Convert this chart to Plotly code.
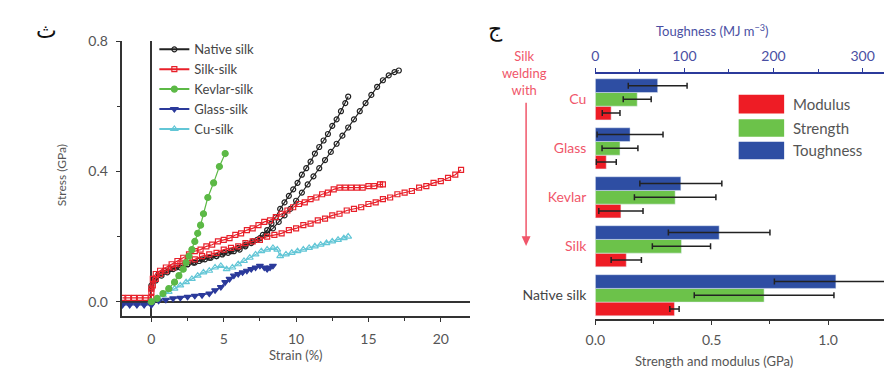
import plotly.graph_objects as go

# ---------------- Left panel: stress-strain curves ----------------
native_a_strain = [0, 0.2, 0.5, 0.9, 1.3, 1.7, 2.1, 2.5, 2.9, 3.3, 3.7, 4.1, 4.5, 4.9, 5.3, 5.7, 6.1, 6.5, 6.9, 7.3,
                   7.7, 8.0, 8.3, 8.6, 8.9, 9.2, 9.5, 9.8, 10.1, 10.4, 10.7, 11.0, 11.3, 11.6, 11.9, 12.2, 12.5,
                   12.8, 13.1, 13.4, 13.6]
native_a_stress = [0.05, 0.07, 0.085, 0.095, 0.1, 0.105, 0.11, 0.115, 0.12, 0.125, 0.13, 0.135, 0.14, 0.145, 0.15,
                   0.155, 0.16, 0.17, 0.18, 0.19, 0.205, 0.22, 0.24, 0.26, 0.285, 0.305, 0.325, 0.345, 0.365, 0.39,
                   0.41, 0.43, 0.455, 0.475, 0.495, 0.515, 0.54, 0.56, 0.585, 0.61, 0.63]

native_b_strain = [0, 0.3, 0.7, 1.1, 1.5, 2.0, 2.5, 3.0, 3.5, 4.0, 4.5, 5.0, 5.5, 6.0, 6.5, 7.0, 7.5, 8.0, 8.4, 8.8,
                   9.2, 9.6, 10.0, 10.4, 10.8, 11.2, 11.6, 12.0, 12.4, 12.8, 13.2, 13.6, 14.0, 14.4, 14.8, 15.2,
                   15.6, 16.0, 16.4, 16.8, 17.1]
native_b_stress = [0.04, 0.065, 0.08, 0.09, 0.1, 0.105, 0.115, 0.12, 0.13, 0.135, 0.14, 0.15, 0.155, 0.165, 0.175,
                   0.185, 0.195, 0.21, 0.225, 0.245, 0.265, 0.285, 0.31, 0.335, 0.36, 0.385, 0.41, 0.435, 0.46,
                   0.485, 0.51, 0.535, 0.56, 0.585, 0.61, 0.635, 0.66, 0.68, 0.695, 0.705, 0.71]

silk_a_strain = [0, 0.1, 0.3, 0.6, 1.0, 1.4, 1.8, 2.2, 2.6, 3.0, 3.4, 3.8, 4.2, 4.6, 5.0, 5.4, 5.8, 6.2, 6.6, 7.0,
                 7.4, 7.8, 8.2, 8.6, 9.0, 9.4, 9.8, 10.2, 10.6, 11.0, 11.4, 11.8, 12.2, 12.6, 13.0, 13.4, 13.8,
                 14.2, 14.6, 15.0, 15.4, 15.8, 16.0]
silk_a_stress = [0.04, 0.07, 0.085, 0.095, 0.105, 0.115, 0.125, 0.135, 0.145, 0.155, 0.16, 0.17, 0.175, 0.185,
                 0.19, 0.195, 0.205, 0.21, 0.22, 0.225, 0.235, 0.245, 0.25, 0.26, 0.27, 0.28, 0.29, 0.3, 0.305,
                 0.315, 0.32, 0.33, 0.335, 0.345, 0.35, 0.35, 0.35, 0.35, 0.35, 0.355, 0.355, 0.36, 0.36]

silk_b_strain = [-2.0, -1.6, -1.2, -0.8, -0.4, 0, 0, 0.1, 0.3, 0.6, 1.0, 1.5, 2.0, 2.5, 3.0, 3.5, 4.0, 4.5, 5.0,
                 5.5, 6.0, 6.5, 7.0, 7.5, 8.0, 8.5, 9.0, 9.5, 10.0, 10.5, 11.0, 11.5, 12.0, 12.5, 13.0, 13.5,
                 14.0, 14.5, 15.0, 15.5, 16.0, 16.5, 17.0, 17.5, 18.0, 18.5, 19.0, 19.5, 20.0, 20.5, 21.0, 21.4]
silk_b_stress = [0.012, 0.012, 0.012, 0.012, 0.012, 0.012, 0.03, 0.05, 0.07, 0.085, 0.095, 0.105, 0.115, 0.125,
                 0.13, 0.14, 0.145, 0.15, 0.16, 0.165, 0.17, 0.18, 0.185, 0.19, 0.2, 0.205, 0.21, 0.22, 0.225,
                 0.235, 0.24, 0.25, 0.255, 0.265, 0.27, 0.28, 0.285, 0.29, 0.3, 0.305, 0.315, 0.32, 0.33, 0.335,
                 0.34, 0.35, 0.355, 0.365, 0.37, 0.38, 0.39, 0.405]

kevlar_strain = [0, 0.4, 0.8, 1.2, 1.6, 1.9, 2.2, 2.4, 2.6, 2.8, 3.0, 3.2, 3.4, 3.6, 3.9, 4.3, 4.7, 5.1]
kevlar_stress = [0.0, 0.01, 0.025, 0.04, 0.06, 0.08, 0.1, 0.12, 0.14, 0.16, 0.185, 0.21, 0.235, 0.27, 0.32, 0.365,
                 0.415, 0.455]

glass_strain = [-2.0, -1.5, -1.0, -0.5, 0, 0, 0.5, 1.0, 1.5, 2.0, 2.5, 3.0, 3.5, 4.0, 4.4, 4.8, 5.1, 5.4, 5.7,
                6.0, 6.3, 6.6, 6.9, 7.2, 7.5, 7.8, 8.0, 8.2, 8.4]
glass_stress = [-0.01, -0.01, -0.01, -0.01, -0.01, 0.0, 0.003, 0.006, 0.01, 0.012, 0.015, 0.018, 0.02, 0.025,
                0.035, 0.045, 0.06, 0.07, 0.08, 0.085, 0.09, 0.095, 0.1, 0.105, 0.11, 0.105, 0.1, 0.105, 0.11]

cu_strain = [0, 0.4, 0.8, 1.2, 1.6, 2.0, 2.4, 2.8, 3.2, 3.6, 4.0, 4.4, 4.8, 5.2, 5.6, 6.0, 6.4, 6.8, 7.2, 7.6, 8.0,
             8.4, 8.7, 8.9, 9.3, 9.7, 10.1, 10.5, 10.9, 11.3, 11.7, 12.1, 12.5, 12.9, 13.3, 13.6]
cu_stress = [0.0, 0.01, 0.02, 0.03, 0.04, 0.05, 0.06, 0.07, 0.08, 0.09, 0.095, 0.105, 0.11, 0.1, 0.105, 0.115,
             0.125, 0.135, 0.145, 0.155, 0.16, 0.165, 0.16, 0.14, 0.145, 0.15, 0.155, 0.16, 0.165, 0.17, 0.175,
             0.18, 0.185, 0.19, 0.195, 0.2]

strain_ticks = [0, 5, 10, 15, 20]
stress_ticks = [0.0, 0.4, 0.8]
stress_tick_labels = ["0.0", "0.4", "0.8"]

# ---------------- Right panel: bar chart ----------------
categories = ["Native silk", "Silk", "Kevlar", "Glass", "Cu"]
category_labels = ["Native silk", "Silk", "Kevlar", "Glass", "Cu"]
modulus = [0.34, 0.133, 0.11, 0.047, 0.068]
modulus_err = [0.02, 0.065, 0.095, 0.043, 0.038]
strength = [0.725, 0.37, 0.343, 0.106, 0.18]
strength_err = [0.3, 0.125, 0.175, 0.077, 0.06]
toughness = [270, 139, 96, 39, 70]
toughness_err = [69, 57, 46, 37, 33]

gpa_ticks = [0.0, 0.5, 1.0]
gpa_tick_labels = ["0.0", "0.5", "1.0"]
tough_ticks = [0, 100, 200, 300]

BLACK = "#222222"
RED = "#e8202a"
GREEN = "#5cb946"
NAVY = "#2b3a9b"
CYAN = "#62c6d6"
BAR_RED = "#ee1c25"
BAR_GREEN = "#6cc24a"
BAR_BLUE = "#2e4ea3"
TXT = "#555555"
LBL_RED = "#f0566a"
TOUGH_TXT = "#4a4fa3"
FONT = "Lato"

fig = go.Figure()

def curve(x, y, name, color, symbol, size, show, lw=1.2, mlw=1.2):
    fig.add_trace(go.Scatter(
        x=x, y=y, name=name, mode="lines+markers", showlegend=show, legendgroup=name,
        line=dict(color=color, width=lw),
        marker=dict(symbol=symbol, size=size, color=color, line=dict(color=color, width=mlw)),
        xaxis="x", yaxis="y"))

curve(cu_strain, cu_stress, "Cu-silk", CYAN, "triangle-up-open", 6, False)
curve(glass_strain, glass_stress, "Glass-silk", NAVY, "triangle-down", 6, False)
curve(native_a_strain, native_a_stress, "Native silk", BLACK, "circle-open", 5, False)
curve(native_b_strain, native_b_stress, "Native silk", BLACK, "circle-open", 5, False)
curve(silk_b_strain, silk_b_stress, "Silk-silk", RED, "square-open", 5, False)
curve(silk_a_strain, silk_a_stress, "Silk-silk", RED, "square-open", 5, False)
curve(kevlar_strain, kevlar_stress, "Kevlar-silk", GREEN, "circle", 6, False)

# legend-only entries in the original order
for nm, col, sym, sz in [("Native silk", BLACK, "circle-open", 5), ("Silk-silk", RED, "square-open", 5),
                         ("Kevlar-silk", GREEN, "circle", 6), ("Glass-silk", NAVY, "triangle-down", 6),
                         ("Cu-silk", CYAN, "triangle-up-open", 6)]:
    fig.add_trace(go.Scatter(x=[None], y=[None], name=nm, mode="lines+markers", showlegend=True,
                             line=dict(color=col, width=2),
                             marker=dict(symbol=sym, size=sz, color=col, line=dict(color=col, width=1.2)),
                             xaxis="x", yaxis="y"))

err_style = dict(type="data", color=BLACK, thickness=1.5, width=3)

fig.add_trace(go.Bar(y=categories, x=modulus, orientation="h", name="Modulus", marker_color=BAR_RED,
                     width=0.28, offset=-0.43, showlegend=False,
                     error_x=dict(array=modulus_err, **err_style), xaxis="x2", yaxis="y2"))
fig.add_trace(go.Bar(y=categories, x=strength, orientation="h", name="Strength", marker_color=BAR_GREEN,
                     width=0.28, offset=-0.15, showlegend=False,
                     error_x=dict(array=strength_err, **err_style), xaxis="x2", yaxis="y2"))
fig.add_trace(go.Bar(y=categories, x=toughness, orientation="h", name="Toughness", marker_color=BAR_BLUE,
                     width=0.28, offset=0.13, showlegend=False,
                     error_x=dict(array=toughness_err, **err_style), xaxis="x3", yaxis="y2"))

W, H = 884, 370
def px(x):
    return x / W
def py(y):
    return 1 - y / H

tickfont = dict(size=14, color=TXT, family=FONT)
base_axis = dict(showgrid=False, showline=True, linewidth=2, ticks="outside", ticklen=4, tickwidth=1.2)

fig.update_layout(
    width=W, height=H, margin=dict(l=0, r=0, t=0, b=0),
    paper_bgcolor="white", plot_bgcolor="white",
    font=dict(family=FONT, color=TXT, size=12),
    barmode="overlay",
    xaxis=dict(domain=[px(113), px(465)], range=[-2.05, 22], tickvals=strain_ticks,
               linecolor="#333333", tickcolor="#333333", tickfont=tickfont, ticklabelstandoff=5,
               zeroline=True, zerolinecolor="#333333", zerolinewidth=2,
               minor=dict(dtick=2.5, ticks="outside", ticklen=3, tickcolor="#333333"),
               **base_axis),
    yaxis=dict(domain=[py(315), py(33)], range=[-0.045, 0.8], tickvals=stress_ticks, ticktext=stress_tick_labels,
               linecolor="#333333", tickcolor="#333333", tickfont=tickfont, ticklabelstandoff=5,
               zeroline=True, zerolinecolor="#333333", zerolinewidth=2,
               minor=dict(dtick=0.2, ticks="outside", ticklen=3, tickcolor="#333333"),
               **base_axis),
    xaxis2=dict(domain=[px(592), 1.0], range=[0, 1.24], tickvals=gpa_ticks, ticktext=gpa_tick_labels,
                anchor="y2", linecolor="#333333", tickcolor="#333333", tickfont=tickfont, ticklabelstandoff=3,
                zeroline=False,
                minor=dict(dtick=0.25, ticks="outside", ticklen=3, tickcolor="#333333"),
                **base_axis),
    xaxis3=dict(overlaying="x2", side="top", anchor="y2", range=[0, 324], tickvals=tough_ticks,
                linecolor=NAVY, tickcolor=NAVY, zeroline=False, ticklabelstandoff=2,
                tickfont=dict(size=14, color=TOUGH_TXT, family=FONT),
                minor=dict(dtick=50, ticks="outside", ticklen=3, tickcolor=NAVY),
                **base_axis),
    yaxis2=dict(domain=[py(318), py(67)], anchor="x2", type="category", categoryorder="array",
                categoryarray=categories, range=[-0.5, 4.5], showline=False, showgrid=False, zeroline=False,
                ticks="", ticklabelstandoff=8, tickvals=categories,
                ticktext=[f"<span style='color:{LBL_RED}'>{c}</span>" if c != "Native silk" else c
                          for c in category_labels],
                tickfont=dict(size=14, color="#444444", family=FONT)),
    legend=dict(x=px(146), y=py(26), xanchor="left", yanchor="top", bgcolor="rgba(0,0,0,0)",
                font=dict(size=13, color="#444444", family=FONT), tracegroupgap=0, itemwidth=30),
)

def ann(text, x, y, size=12, color=TXT, family=FONT, **kw):
    d = dict(text=text, x=px(x), y=py(y), xref="paper", yref="paper", showarrow=False,
             xanchor="center", yanchor="middle", font=dict(size=size, color=color, family=family))
    d.update(kw)
    return d

annotations = [
    ann("ث", 37, 22, size=22, color="#111111", family="DejaVu Sans"),
    ann("ج", 491, 20, size=22, color="#111111", family="DejaVu Sans"),
    ann("Stress (GPa)", 52, 170, size=12, textangle=-90),
    ann("Strain (%)", 289, 355, size=13),
    ann("Strength and modulus (GPa)", 712, 361, size=13),
    ann("Toughness (MJ m<sup>−3</sup>)", 711, 22, size=13, color=TOUGH_TXT),
    ann("Silk<br>welding<br>with", 520, 66, size=13, color=LBL_RED),
]

shapes = [
    # red downward arrow next to the category labels
    dict(type="line", xref="paper", yref="paper", x0=px(522), x1=px(522), y0=py(96), y1=py(236),
         line=dict(color=LBL_RED, width=1.5)),
    dict(type="path", xref="paper", yref="paper",
         path=f"M {px(517.5)},{py(233)} L {px(526.5)},{py(233)} L {px(522)},{py(243)} Z",
         fillcolor=LBL_RED, line=dict(width=0)),
]
for label, col, y0, y1 in [("Modulus", BAR_RED, 88, 107), ("Strength", BAR_GREEN, 113, 131),
                           ("Toughness", BAR_BLUE, 136, 154)]:
    shapes.append(dict(type="rect", xref="paper", yref="paper", x0=px(737), x1=px(783), y0=py(y1), y1=py(y0),
                       fillcolor=col, line=dict(width=0)))
    annotations.append(ann(label, 790, (y0 + y1) / 2, size=15, xanchor="left"))

fig.update_layout(annotations=annotations, shapes=shapes)
fig.write_html("out.html")
